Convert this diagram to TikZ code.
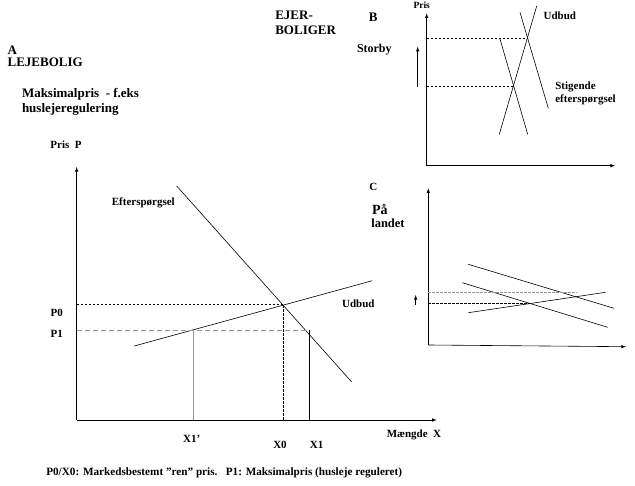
\documentclass[tikz,border=0pt]{standalone}
\usepackage{fontspec}
\setmainfont{Liberation Serif}
\usetikzlibrary{arrows}
\usetikzlibrary{math}
\definecolor{lgray}{RGB}{150,150,150}
\tikzset{
 lbl/.style={font=\bfseries\fontsize{11}{13}\selectfont, inner sep=0pt},
 head/.style={font=\bfseries\fontsize{13}{15}\selectfont, inner sep=0pt},
 curve/.style={line width=0.6pt},
 guide/.style={line width=0.6pt, dash pattern=on 2.5pt off 1.5pt},
 longguide/.style={line width=0.9pt, color=lgray, dash pattern=on 5pt off 3pt},
}

\begin{document}
\begin{tikzpicture}[x=1pt,y=-1pt,line width=0.6pt]
\tikzmath{
\ox=76.7;
\oy=420;
\bx=426.7;
\by=165.7;
\cx=428.3;
\cy=345;
}
\useasboundingbox (0,0) rectangle (635,486);

%A: main panel
%axes
\coordinate (O) at (\ox,\oy);
\coordinate (Ytop) at (\ox,167);
\coordinate (Xend) at (436.7,\oy);
\draw[-latex] (O) -- (Ytop);
\draw[-latex] (O) -- (Xend);
%curves
\coordinate (D0) at (176.7,186);
\coordinate (D1) at (351.7,382);
\coordinate (S0) at (134.3,346);
\coordinate (S1) at (372.3,280.7);
\coordinate (E) at (283.3,304);
\draw[curve] (D0) -- (D1);
\draw[curve] (S0) -- (S1);
%equilibrium
\draw[guide] (O |- E) -- (E) -- (E |- O);
%maximal price
\coordinate (A1) at (193.3,330);
\coordinate (B1) at (309.3,330);
\draw[longguide] (O |- A1) -- (B1);
\draw[lgray] (A1) -- (A1 |- O);
\draw (B1) -- (B1 |- O);
%labels
\node[lbl] (prisp) at (66,145) {Pris\ \ P};
\node[lbl] (eftersp) at (143.3,203.3) {Efterspørgsel};
\node[lbl] (udbud) at (358.3,303.3) {Udbud};
\node[lbl] (p0) at (56.7,313.3) {P0};
\node[lbl] (p1) at (56.7,334.3) {P1};
\node[lbl] (x1m) at (191.7,439.3) {X1’};
\node[lbl] (x0) at (280,445) {X0};
\node[lbl] (x1) at (316.7,445) {X1};
\node[lbl,anchor=west] (xlab) at (386.5,435) {Mængde\ \ X};
\node[head,anchor=west] (a) at (7.3,50) {A};
\node[head,anchor=west] (leje) at (7.3,62.3) {LEJEBOLIG};
\node[head,anchor=west] (maks) at (21.7,94) {Maksimalpris\ \ - f.eks};
\node[head,anchor=west] (husl) at (21.7,109) {huslejeregulering};
\node[lbl,anchor=west,font=\bfseries\fontsize{11.2}{13}\selectfont] (note) at (46,472.7) {P0/X0: Markedsbestemt ”ren” pris.\ \ \ P1: Maksimalpris (husleje reguleret)};

%B: storby
\coordinate (BO) at (\bx,\by);
\draw[-latex] (BO) -- (\bx,13.3);
\draw[-latex] (BO) -- (615,\by);
\coordinate (BS0) at (499.3,134.3);
\coordinate (BS1) at (536.7,6);
\coordinate (BD0) at (500,39);
\coordinate (BD1) at (527.7,134.3);
\coordinate (BN0) at (520,12.3);
\coordinate (BN1) at (548.3,108.3);
\draw[curve] (BS0) -- (BS1);
\draw[curve] (BD0) -- (BD1);
\draw[curve] (BN0) -- (BN1);
\coordinate (BE1) at (527.7,38.3);
\coordinate (BE0) at (513.3,86.7);
\draw[guide] (BO |- BE1) -- (BE1);
\draw[guide] (BO |- BE0) -- (BE0);
\coordinate (BA0) at (417.7,86.7);
\coordinate (BA1) at (417.7,46.7);
\draw[-latex] (BA0) -- (BA1);
\node[font=\bfseries\fontsize{9.5}{10}\selectfont,inner sep=0pt] (bpris) at (421.7,5.5) {Pris};
\node[lbl,anchor=west] (budbud) at (543.3,15.7) {Udbud};
\node[lbl,anchor=west] (stig) at (555,87.3) {Stigende};
\node[lbl,anchor=west] (bsp) at (555,100) {efterspørgsel};
\node[head,anchor=west] (ejer) at (275,15) {EJER-};
\node[head,anchor=west] (bolig) at (275,30) {BOLIGER};
\node[head] (b) at (373.3,17.3) {B};
\node[head,anchor=west,font=\bfseries\fontsize{12}{14}\selectfont] (storby) at (356.7,50) {Storby};

%C: paa landet
\coordinate (CO) at (\cx,\cy);
\draw[-latex] (CO) -- (\cx,188.3);
\draw[-latex] (CO) -- (626,346.7);
\coordinate (CU0) at (468.3,264.3);
\coordinate (CU1) at (614,308.3);
\coordinate (CL0) at (462.3,282.7);
\coordinate (CL1) at (607.7,327.3);
\coordinate (CS0) at (468.3,312.7);
\coordinate (CS1) at (605.7,292.3);
\draw[curve] (CU0) -- (CU1);
\draw[curve] (CL0) -- (CL1);
\draw[curve] (CS0) -- (CS1);
\coordinate (CE1) at (576.7,292.3);
\coordinate (CE0) at (531.7,303.3);
\draw[guide,lgray] (CO |- CE1) -- (CE1);
\draw[guide] (CO |- CE0) -- (CE0);
\coordinate (CA0) at (415.7,305);
\coordinate (CA1) at (415.7,295);
\draw[-latex] (CA0) -- (CA1);
\node[lbl] (c) at (373.3,186.7) {C};
\node[head,anchor=west,font=\bfseries\fontsize{14}{16}\selectfont] (paa) at (371.7,210) {På};
\node[head,anchor=west,font=\bfseries\fontsize{12.5}{14}\selectfont] (landet) at (371,223.3) {landet};
\end{tikzpicture}
\end{document}
